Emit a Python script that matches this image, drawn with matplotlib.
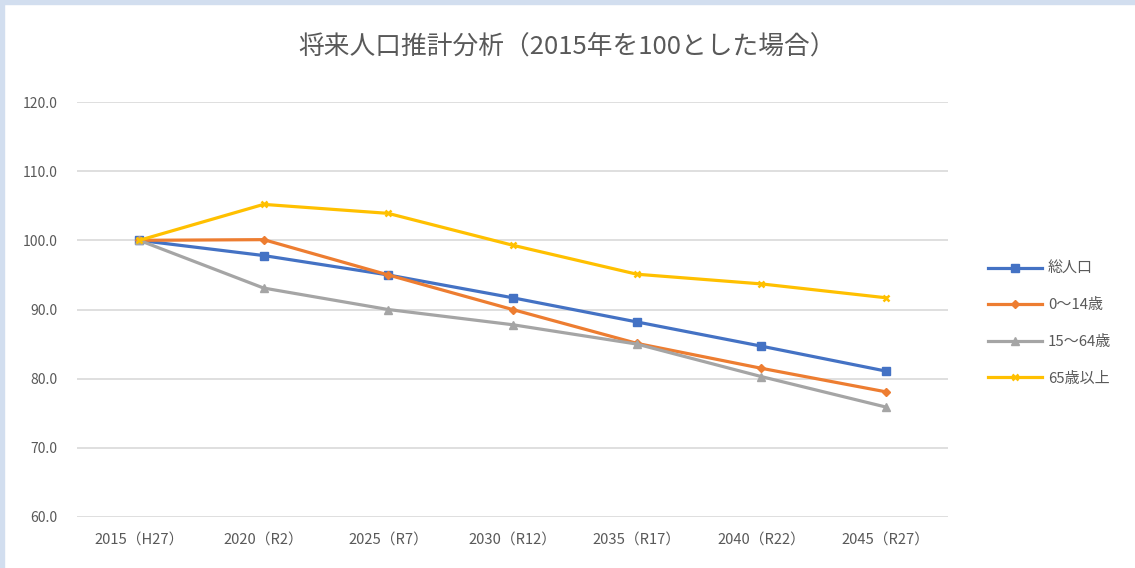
import matplotlib
matplotlib.use('Agg')
import matplotlib.pyplot as plt
from matplotlib.patches import Rectangle

plt.rcParams['font.family'] = ['Noto Sans CJK JP', 'DejaVu Sans']

# categories (x axis)
years = ['2015（H27）', '2020（R2）', '2025（R7）', '2030（R12）',
         '2035（R17）', '2040（R22）', '2045（R27）']

# index values, 2015 = 100
total = [100.0, 97.8, 95.0, 91.7, 88.2, 84.7, 81.1]
age_0_14 = [100.0, 100.1, 95.0, 90.0, 85.1, 81.5, 78.1]
age_15_64 = [100.0, 93.1, 90.0, 87.8, 85.0, 80.3, 75.9]
age_65_over = [100.0, 105.2, 103.9, 99.3, 95.1, 93.7, 91.7]

series_names = ['総人口', '0～14歳', '15～64歳', '65歳以上']
yticks = [60.0, 70.0, 80.0, 90.0, 100.0, 110.0, 120.0]

text_col = '#595959'

fig = plt.figure(figsize=(11.35, 5.68), dpi=100)
# light blue frame on top and left edges
fig.patches.append(Rectangle((0, 1 - 4 / 568), 1, 4 / 568, transform=fig.transFigure,
                             color='#d2deef', zorder=0))
fig.patches.append(Rectangle((0, 0), 4 / 1135, 1, transform=fig.transFigure,
                             color='#d2deef', zorder=0))

ax = fig.add_axes([77 / 1135, 1 - 517 / 568, (948 - 77) / 1135, (517 - 102) / 568])
x = range(len(years))

ax.plot(x, total, color='#4472C4', lw=2.3, marker='s', ms=5.5, label=series_names[0], zorder=3)
ax.plot(x, age_0_14, color='#ED7D31', lw=2.3, marker='D', ms=4, label=series_names[1], zorder=3)
ax.plot(x, age_15_64, color='#A5A5A5', lw=2.3, marker='^', ms=5.5, label=series_names[2], zorder=3)
ax.plot(x, age_65_over, color='#FFC000', lw=2.3, marker='x', ms=5, mew=1.8,
        label=series_names[3], zorder=3)

ax.set_xlim(-0.5, len(years) - 0.5)
ax.set_ylim(60, 120)
ax.set_yticks(yticks)
ax.set_yticklabels([f'{v:.1f}' for v in yticks])
ax.set_xticks(list(x))
ax.set_xticklabels(years)
ax.tick_params(axis='both', length=0, labelcolor=text_col)
ax.tick_params(axis='y', pad=14, labelsize=10)
ax.tick_params(axis='x', pad=12, labelsize=10.6)
ax.grid(axis='y', color='#d9d9d9', lw=1.2)
ax.set_axisbelow(True)
for s in ax.spines.values():
    s.set_visible(False)

fig.text(567 / 1135, 1 - 47 / 568, '将来人口推計分析（2015年を100とした場合）',
         ha='center', va='center', fontsize=18.5, color=text_col)

fig.legend(loc='upper left', bbox_to_anchor=(988 / 1135, 1 - 262 / 568), frameon=False,
           fontsize=10.8, labelcolor=text_col, handlelength=3.6, handletextpad=0.4,
           labelspacing=1.5, borderpad=0, borderaxespad=0)

fig.savefig('out.png', dpi=100, facecolor='white')
